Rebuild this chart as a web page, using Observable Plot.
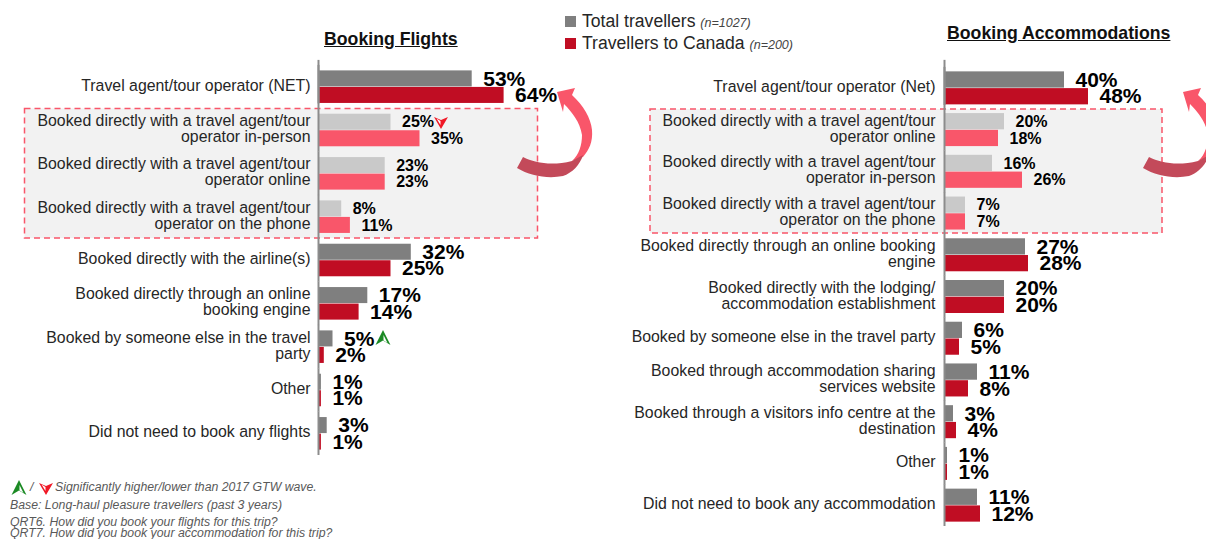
<!DOCTYPE html>
<html>
<head>
<meta charset="utf-8">
<script src="https://cdn.jsdelivr.net/npm/d3@7"></script>
<script src="https://cdn.jsdelivr.net/npm/@observablehq/plot@0.6"></script>
<style>
html,body{margin:0;padding:0;background:#fff;overflow:hidden}
#page{position:relative;width:1206px;height:539px;overflow:hidden;font-family:"Liberation Sans",Arial,sans-serif}
#page>svg{position:absolute;left:0;top:0}
.t{position:absolute;white-space:nowrap}
.title{font-weight:bold;font-size:17.7px;text-decoration:underline;color:#111}
.leg{font-size:17.6px;color:#262626}
.leg i{font-size:12.5px;color:#444}
.sw{position:absolute;width:11px;height:11px}
.foot{font-size:12.3px;line-height:12px;font-style:italic;color:#595959}
</style>
</head>
<body>
<div id="page"></div>
<script>
const flightCategories = [
  "Travel agent/tour operator (NET)",
  "Booked directly with a travel agent/tour\noperator in-person",
  "Booked directly with a travel agent/tour\noperator online",
  "Booked directly with a travel agent/tour\noperator on the phone",
  "Booked directly with the airline(s)",
  "Booked directly through an online\nbooking engine",
  "Booked by someone else in the travel\nparty",
  "Other",
  "Did not need to book any flights"
];
const flightTotal = [53, 25, 23, 8, 32, 17, 5, 1, 3];
const flightCanada = [64, 35, 23, 11, 25, 14, 2, 1, 1];
const flightHighlightRows = [1, 2, 3];

const accomCategories = [
  "Travel agent/tour operator (Net)",
  "Booked directly with a travel agent/tour\noperator online",
  "Booked directly with a travel agent/tour\noperator in-person",
  "Booked directly with a travel agent/tour\noperator on the phone",
  "Booked directly through an online booking\nengine",
  "Booked directly with the lodging/\naccommodation establishment",
  "Booked by someone else in the travel party",
  "Booked through accommodation sharing\nservices website",
  "Booked through a visitors info centre at the\ndestination",
  "Other",
  "Did not need to book any accommodation"
];
const accomTotal = [40, 20, 16, 7, 27, 20, 6, 11, 3, 1, 11];
const accomCanada = [48, 18, 26, 7, 28, 20, 5, 8, 4, 1, 12];
const accomHighlightRows = [1, 2, 3];

const seriesNames = ["Total travellers", "Travellers to Canada"];
const solidColors = ["#7F7F7F", "#C00D23"];
const paleColors = ["#C9C9C9", "#F9566A"];

function panel({categories, total, canada, highlight, axisX, pxPerPct, top, bottom, gap, extraTop, padding, labelDy, tickPadding}) {
  const rows = [];
  categories.forEach((cat, i) => {
    [total[i], canada[i]].forEach((value, s) => {
      const hl = highlight.includes(i);
      rows.push({cat, series: seriesNames[s], value, label: value + "%",
        color: (hl ? paleColors : solidColors)[s], size: hl ? 16 : 21});
    });
  });
  return Plot.plot({
    width: 1206, height: bottom, marginTop: top, marginBottom: 0,
    marginLeft: axisX, marginRight: 0,
    style: {background: "transparent", fontFamily: "'Liberation Sans', Arial, sans-serif"},
    x: {domain: [0, 100], range: [axisX, axisX + 100 * pxPerPct], axis: null},
    y: {domain: seriesNames, axis: null, padding: 0.03, round: false},
    fy: {domain: categories, axis: null, paddingInner: padding, paddingOuter: padding / 2, round: false, label: null},
    color: {type: "identity"},
    marks: [
      Plot.barX(rows, {x: "value", y: "series", fy: "cat", fill: "color"}),
      Plot.ruleX(categories, {x: () => 0, fy: d => d, stroke: "#8c8c8c", strokeWidth: 2, insetTop: -gap, insetBottom: -gap}),
      Plot.ruleX(categories.slice(0, 1), {x: () => 0, fy: d => d, stroke: "#8c8c8c", strokeWidth: 2, insetTop: -extraTop}),
      Plot.text(rows, {x: "value", y: "series", fy: "cat", text: "label", dx: 11, textAnchor: "start",
        fontWeight: "bold", fontSize: "size", fill: "#000"}),
      Plot.axisFy({anchor: "left", tickSize: 0, tickPadding, label: null, fontSize: 15.85,
        lineHeight: 1, fill: "#262626", dy: labelDy})
    ]
  });
}

const page = document.getElementById("page");
const NS = "http://www.w3.org/2000/svg";

function layer(inner) {
  const s = document.createElementNS(NS, "svg");
  s.setAttribute("width", 1206); s.setAttribute("height", 539);
  s.innerHTML = inner;
  page.appendChild(s);
}

layer(`
  <rect x="24.5" y="108.5" width="513" height="129.5" fill="#F2F2F2" stroke="#F9566A" stroke-width="1.5" stroke-dasharray="6 4"/>
  <rect x="650" y="109" width="512" height="124" fill="#F2F2F2" stroke="#F9566A" stroke-width="1.5" stroke-dasharray="6 4"/>
`);

page.appendChild(panel({categories: flightCategories, total: flightTotal, canada: flightCanada,
  highlight: flightHighlightRows, axisX: 318, pxPerPct: 2.9, top: 65, bottom: 455, gap: 5, extraTop: 10, padding: 0.226, labelDy: -1.5, tickPadding: 8}));
page.appendChild(panel({categories: accomCategories, total: accomTotal, canada: accomCanada,
  highlight: accomHighlightRows, axisX: 944, pxPerPct: 3.0, top: 67, bottom: 526, gap: 4, extraTop: 11, padding: 0.185, labelDy: -1.5, tickPadding: 9}));

const arrow = `
  <path d="M557 92 L575 88 L572 95 C583 105 591 118 592 130 C593 142 589 150 583 157 L572 161 C579 155 582 145 582 135 C580 122 572 112 564 104 L563 112 Z" fill="#F9566A"/>
  <path d="M517 168 L523 157 C535 163 552 166 572 161 L583 155 C580 165 572 173 563 176 C548 179 530 176 517 168 Z" fill="#C34A5A"/>`;
const up = `<path d="M0 -8 L-7.5 7 L0 2.5 L7.5 7 Z" fill="#1B8A24"/><path d="M0.5 -3 L4.5 5 L0.5 2.5 Z" fill="#fff"/>`;
const down = `<path d="M-7 -5 L0 -2 L7 -5 L0 7 Z" fill="#F01826"/><path d="M-4.5 -3.5 L-0.5 -1 L-0.5 3 Z" fill="#fff"/>`;
layer(`
  <g>${arrow}</g>
  <g transform="translate(626,0)">${arrow}</g>
  <g transform="translate(441,122)">${down}</g>
  <g transform="translate(383,338)">${up}</g>
  <g transform="translate(19,488)">${up}</g>
  <g transform="translate(46,488)">${down}</g>
`);

function txt(cls, left, top, html) {
  const d = document.createElement("div");
  d.className = "t " + cls;
  d.style.left = left + "px"; d.style.top = top + "px";
  d.innerHTML = html;
  page.appendChild(d);
}
txt("title", 324, 29, "Booking Flights");
txt("title", 947, 23, "Booking Accommodations");
const sw = (top, c) => {
  const d = document.createElement("div");
  d.className = "sw"; d.style.left = "565px"; d.style.top = top + "px"; d.style.background = c;
  page.appendChild(d);
};
sw(16, solidColors[0]); sw(38, solidColors[1]);
txt("leg", 582, 11, seriesNames[0] + " <i>(n=1027)</i>");
txt("leg", 582, 33, seriesNames[1] + " <i>(n=200)</i>");
txt("foot", 30, 481, "/");
txt("foot", 55, 481, "Significantly higher/lower than 2017 GTW wave.");
txt("foot", 10, 499, "Base: Long-haul pleasure travellers (past 3 years)");
txt("foot", 10, 516, "QRT6. How did you book your flights for this trip?");
txt("foot", 10, 527, "QRT7. How did you book your accommodation for this trip?");
</script>
</body>
</html>
